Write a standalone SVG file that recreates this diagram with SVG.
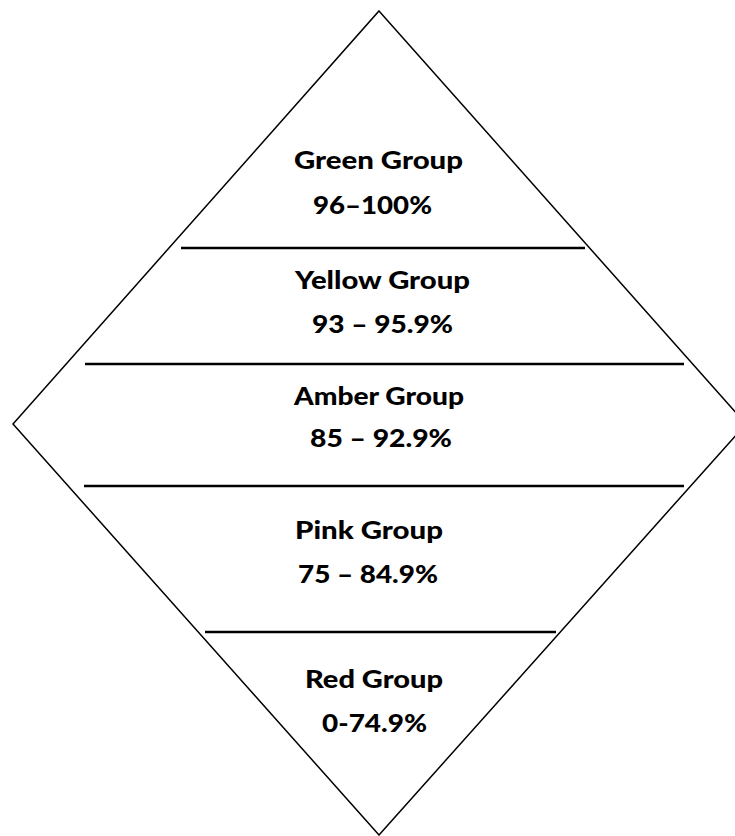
<svg xmlns="http://www.w3.org/2000/svg" width="735" height="836" viewBox="0 0 735 836">
<style>
.t{font-family:Lato,"Open Sans","Liberation Sans",sans-serif;font-weight:900;font-size:24px;fill:#000}
.sep{stroke:#000;stroke-width:2.5;fill:none}
.dia{stroke:#000;stroke-width:1.5;fill:#fff}
</style>
<rect width="735" height="836" fill="#fff"/>
<g id="diamond"><polygon class="dia" points="379,11 746,424 379,835 13,424"/></g>
<g id="connectors">
<line class="sep" x1="181" y1="248" x2="585" y2="248"/>
<line class="sep" x1="85" y1="364" x2="684" y2="364"/>
<line class="sep" x1="84" y1="486" x2="684" y2="486"/>
<line class="sep" x1="205" y1="632" x2="556" y2="632"/>
</g>
<g id="green">
<text class="t" x="294" y="169" textLength="169" lengthAdjust="spacingAndGlyphs">Green Group</text>
<text class="t" x="313" y="214" textLength="119" lengthAdjust="spacingAndGlyphs">96–100%</text>
</g>
<g id="yellow">
<text class="t" x="295" y="289" textLength="175" lengthAdjust="spacingAndGlyphs">Yellow Group</text>
<text class="t" x="312" y="333" textLength="141" lengthAdjust="spacingAndGlyphs">93 – 95.9%</text>
</g>
<g id="amber">
<text class="t" x="294" y="405" textLength="170" lengthAdjust="spacingAndGlyphs">Amber Group</text>
<text class="t" x="310" y="447" textLength="142" lengthAdjust="spacingAndGlyphs">85 – 92.9%</text>
</g>
<g id="pink">
<text class="t" x="295" y="539" textLength="148" lengthAdjust="spacingAndGlyphs">Pink  Group</text>
<text class="t" x="298" y="583" textLength="140" lengthAdjust="spacingAndGlyphs">75 – 84.9%</text>
</g>
<g id="red">
<text class="t" x="305" y="688" textLength="138" lengthAdjust="spacingAndGlyphs">Red Group</text>
<text class="t" x="322" y="732" textLength="105" lengthAdjust="spacingAndGlyphs">0-74.9%</text>
</g>
</svg>
